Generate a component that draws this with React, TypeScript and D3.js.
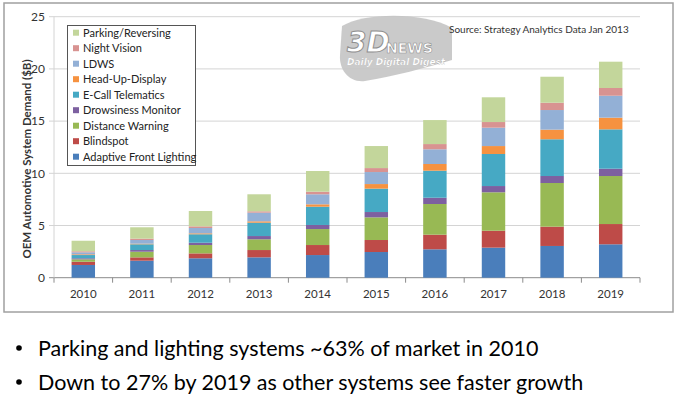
import * as d3 from "d3";

const years = ["2010", "2011", "2012", "2013", "2014", "2015", "2016", "2017", "2018", "2019"];

// stacked bottom to top, values in $B
const adaptiveFrontLighting = [1.22, 1.63, 1.86, 1.95, 2.17, 2.46, 2.72, 2.88, 3.04, 3.2];
const blindspot = [0.31, 0.32, 0.47, 0.7, 0.96, 1.15, 1.4, 1.62, 1.85, 1.94];
const distanceWarning = [0.23, 0.54, 0.8, 1.03, 1.53, 2.17, 2.94, 3.68, 4.18, 4.6];
const drowsinessMonitor = [0.1, 0.16, 0.22, 0.31, 0.39, 0.51, 0.6, 0.6, 0.67, 0.7];
const eCallTelematics = [0.31, 0.55, 0.81, 1.28, 1.75, 2.24, 2.59, 3.07, 3.52, 3.77];
const headUpDisplay = [0.07, 0.06, 0.09, 0.13, 0.23, 0.44, 0.64, 0.76, 0.92, 1.12];
const ldws = [0.19, 0.35, 0.51, 0.83, 0.96, 1.15, 1.41, 1.76, 1.88, 2.1];
const nightVision = [0.1, 0.13, 0.16, 0.13, 0.25, 0.38, 0.5, 0.54, 0.7, 0.74];
const parkingReversing = [1.01, 1.09, 1.47, 1.63, 1.98, 2.11, 2.3, 2.37, 2.49, 2.52];

const seriesNames = [
  "Adaptive Front Lighting",
  "Blindspot",
  "Distance Warning",
  "Drowsiness Monitor",
  "E-Call Telematics",
  "Head-Up-Display",
  "LDWS",
  "Night Vision",
  "Parking/Reversing",
];
const seriesValues = [
  adaptiveFrontLighting,
  blindspot,
  distanceWarning,
  drowsinessMonitor,
  eCallTelematics,
  headUpDisplay,
  ldws,
  nightVision,
  parkingReversing,
];
const colors = ["#4a7ebb", "#be4b48", "#98b954", "#7d60a0", "#46a9c4", "#f69240", "#93b0d6", "#d89391", "#c3d69b"];

const yTicks = [0, 5, 10, 15, 20, 25];
const bullets = [
  "Parking and lighting systems ~63% of market in 2010",
  "Down to 27% by 2019 as other systems see faster growth",
];

const font = "Lato, 'Open Sans', sans-serif";

export default function App() {
  const left = 54;
  const right = 640;
  const top = 16.7;
  const bottom = 277.7;

  const x = d3.scaleBand().domain(years).range([left, right]).paddingInner(0.6).paddingOuter(0.3);
  const y = d3.scaleLinear().domain([0, 25]).range([bottom, top]);

  const rows = years.map((yr, i) => {
    const r: Record<string, any> = { year: yr };
    seriesNames.forEach((n, s) => (r[n] = seriesValues[s][i]));
    return r;
  });
  const stacked = d3.stack().keys(seriesNames)(rows as any);

  const step = x.step();
  const boundaries = d3.range(years.length + 1).map((i) => left + i * step);

  return (
    <svg width={680} height={397} style={{ position: "absolute", left: 0, top: 0, background: "#fff" }}>
      {/* chart frame */}
      <rect x={4} y={3} width={669} height={309} fill="#fff" stroke="#a0a0a0" strokeWidth={1.5} />

      {/* gridlines */}
      {yTicks.map((t) => (
        <line key={t} x1={left - 5} x2={right} y1={y(t)} y2={y(t)} stroke={t === 0 ? "#8c8c8c" : "#d4d4d4"} strokeWidth={1} />
      ))}
      <line x1={left} x2={left} y1={top} y2={bottom} stroke="#d4d4d4" />

      {/* x ticks at category boundaries */}
      {boundaries.map((b, i) => (
        <line key={i} x1={b} x2={b} y1={bottom} y2={bottom + 5} stroke="#8c8c8c" />
      ))}

      {/* watermark */}
      <g>
        <path
          d="M342,26 C365,12 425,12 452,28 L452,60 C425,68 395,76 365,81 C349,83 339,70 340,55 Z"
          fill="#c4c4c4"
          opacity={0.9}
        />
        <text x={347} y={52} fontFamily="'DejaVu Sans', sans-serif" fontWeight="bold" fontStyle="italic" fontSize={28} fill="#fff" stroke="#8f8f8f" strokeWidth={1}>
          3D
        </text>
        <text x={386} y={53} fontFamily="'DejaVu Sans', sans-serif" fontWeight="bold" fontSize={14} fill="#fff" stroke="#8f8f8f" strokeWidth={0.6}>
          NEWS
        </text>
        <text x={347} y={65} fontFamily="'DejaVu Sans', sans-serif" fontWeight="bold" fontStyle="italic" fontSize={9} fill="#fff" stroke="#9a9a9a" strokeWidth={0.2}>
          Daily Digital Digest
        </text>
      </g>

      {/* bars */}
      {stacked.map((layer, s) => (
        <g key={seriesNames[s]} fill={colors[s]}>
          {layer.map((d: any) => (
            <rect key={d.data.year} x={x(d.data.year)} y={y(d[1])} width={x.bandwidth()} height={y(d[0]) - y(d[1])} />
          ))}
        </g>
      ))}

      {/* y tick labels */}
      {yTicks.map((t) => (
        <text key={t} x={45} y={y(t)} dy="0.35em" textAnchor="end" fontFamily={font} fontSize={12} fill="#333">
          {t}
        </text>
      ))}

      {/* x labels */}
      {years.map((yr) => (
        <text key={yr} x={(x(yr) ?? 0) + x.bandwidth() / 2} y={294} dy="0.35em" textAnchor="middle" fontFamily={font} fontSize={11.5} fill="#333">
          {yr}
        </text>
      ))}

      {/* y axis title */}
      <text transform="translate(27,159) rotate(-90)" textAnchor="middle" dy="0.35em" fontFamily={font} fontWeight="bold" fontSize={11.5} fill="#333">
        OEM Automotive System Demand ($B)
      </text>

      {/* legend */}
      <rect x={67.5} y={25.5} width={128} height={140} fill="#fff" stroke="#555" />
      {seriesNames
        .map((n, s) => ({ n, s }))
        .reverse()
        .map(({ n, s }, i) => (
          <g key={n} transform={`translate(73,${32.7 + i * 15.5})`}>
            <rect x={0} y={-3} width={6} height={6} fill={colors[s]} />
            <text x={10} y={0} dy="0.35em" fontFamily={font} fontSize={11} fill="#222">
              {n}
            </text>
          </g>
        ))}

      {/* source note */}
      <text x={449} y={29} dy="0.35em" fontFamily={font} fontSize={10} fill="#333">
        Source: Strategy Analytics Data Jan 2013
      </text>

      {/* bullet points */}
      {bullets.map((b, i) => (
        <g key={i}>
          <circle cx={19} cy={348 + i * 34} r={2.8} fill="#000" />
          <text x={38} y={348 + i * 34} dy="0.35em" fontFamily={font} fontSize={21.5} fill="#000">
            {b}
          </text>
        </g>
      ))}
    </svg>
  );
}
